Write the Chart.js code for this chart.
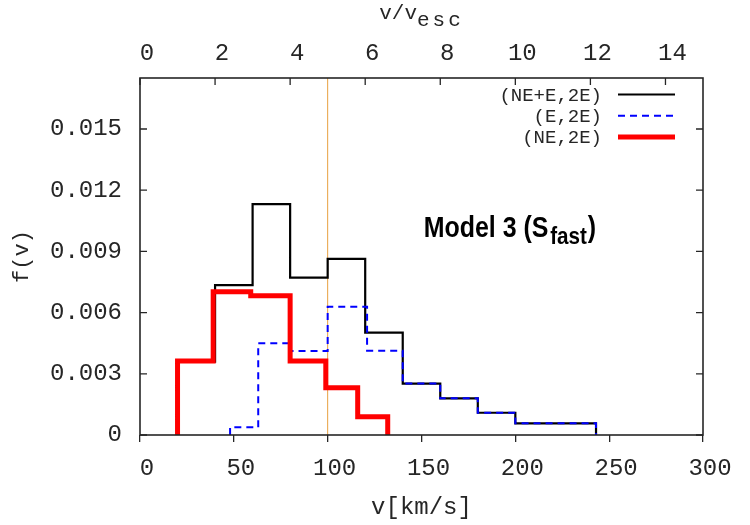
<!DOCTYPE html>
<html><head><meta charset="utf-8">
<script src="https://cdn.jsdelivr.net/npm/chart.js@4/dist/chart.umd.min.js"></script>
<style>html,body{margin:0;padding:0;background:#fff}</style>
</head><body>
<canvas id="c" width="750" height="525" style="width:750px;height:525px;display:block"></canvas>
<script>
// ---------------- data ----------------
const seriesNames = ['(NE+E,2E)', '(E,2E)', '(NE,2E)'];
// (NE+E,2E): bin edges [km/s] and heights
const totalEdges  = [20, 40, 60, 80, 100, 120, 140, 160, 180, 200, 243];
const totalValues = [0.0036, 0.00735, 0.01132, 0.00771, 0.00863, 0.00502, 0.00252, 0.0018, 0.00109, 0.00057];
// (E,2E)
const escEdges  = [48, 63, 80, 100, 121, 140, 160, 180, 200, 243];
const escValues = [0.00038, 0.0045, 0.00412, 0.00629, 0.00413, 0.00252, 0.0018, 0.00109, 0.00057];
// (NE,2E)
const nonEscEdges  = [20, 39, 59, 80, 99, 116, 132];
const nonEscValues = [0.00363, 0.00702, 0.00683, 0.00363, 0.00232, 0.0009];
// reference vertical line (v = 100 km/s)
const markerV = 100;
// axes
const xTicks = [0, 50, 100, 150, 200, 250, 300];
const x2Ticks = [0, 2, 4, 6, 8, 10, 12, 14];
const yTicks = [0, 0.003, 0.006, 0.009, 0.012, 0.015];
const yTickLabels = ['0', '0.003', '0.006', '0.009', '0.012', '0.015'];
const xRange = [0, 300], x2Range = [0, 15], yRange = [0, 0.0175];
const annotationText = ['Model 3 (S', 'fast', ')'];
const annotationAt = {v: 151.2, f: 0.00969};

// ---------------- helpers ----------------
function histPoints(edges, values) {
  const pts = [{x: edges[0], y: 0}];
  values.forEach((v, i) => pts.push({x: edges[i], y: v}));
  pts.push({x: edges[edges.length - 1], y: 0});
  return pts;
}
const MONO = '"Liberation Mono", "DejaVu Sans Mono", monospace';
const SANS = '"Liberation Sans", Arial, sans-serif';
const INK = '#262626';
const seriesStyle = [
  {color: '#000000', width: 2.2, dash: []},
  {color: '#0000ff', width: 2, dash: [7, 5]},
  {color: '#ff0000', width: 5, dash: []}
];

const decorPlugin = {
  id: 'decor',
  afterDatasetsDraw(chart) {
    const ctx = chart.ctx;
    const a = chart.chartArea;
    const ys = chart.scales.y, x2 = chart.scales.x2, xs = chart.scales.x;
    ctx.save();
    // frame
    ctx.strokeStyle = INK; ctx.lineWidth = 1.6; ctx.setLineDash([]);
    ctx.strokeRect(a.left, a.top, a.right - a.left, a.bottom - a.top);
    // inward ticks: y (left and mirrored right), x2 (top)
    ctx.lineWidth = 1.3;
    ctx.beginPath();
    yTicks.forEach(v => {
      const p = ys.getPixelForValue(v);
      ctx.moveTo(a.left, p); ctx.lineTo(a.left + 7, p);
      ctx.moveTo(a.right, p); ctx.lineTo(a.right - 7, p);
    });
    x2Ticks.forEach(v => {
      const p = x2.getPixelForValue(v);
      ctx.moveTo(p, a.top); ctx.lineTo(p, a.top + 7);
    });
    ctx.stroke();

    // legend (text right-aligned, sample on the right)
    ctx.font = '19px ' + MONO;
    ctx.textAlign = 'right'; ctx.textBaseline = 'middle';
    seriesNames.forEach((name, i) => {
      const y = a.top + 16.5 + i * 21.2;
      ctx.fillStyle = INK;
      ctx.fillText(name, a.right - 101, y + 1);
      const st = seriesStyle[i];
      ctx.strokeStyle = st.color; ctx.lineWidth = st.width; ctx.setLineDash(st.dash);
      ctx.lineCap = 'butt';
      ctx.beginPath(); ctx.moveTo(a.right - 85, y); ctx.lineTo(a.right - 28, y); ctx.stroke();
    });
    ctx.setLineDash([]);

    // annotation "Model 3 (S_fast)"
    const ax = xs.getPixelForValue(annotationAt.v), ay = ys.getPixelForValue(annotationAt.f);
    ctx.save();
    ctx.translate(ax, ay); ctx.scale(0.86, 1);
    ctx.fillStyle = '#000'; ctx.textAlign = 'left'; ctx.textBaseline = 'alphabetic';
    ctx.font = 'bold 29px ' + SANS;
    ctx.fillText(annotationText[0], 0, 0);
    let w = ctx.measureText(annotationText[0]).width + 2;
    ctx.font = 'bold 24px ' + SANS;
    ctx.fillText(annotationText[1], w, 7);
    w += ctx.measureText(annotationText[1]).width + 1;
    ctx.font = 'bold 29px ' + SANS;
    ctx.fillText(annotationText[2], w, 0);
    ctx.restore();

    // top axis title v/v_esc
    ctx.fillStyle = INK; ctx.textAlign = 'left'; ctx.textBaseline = 'alphabetic';
    ctx.font = '21px ' + MONO;
    const t1 = 'v/v', t2 = 'esc';
    const w1 = ctx.measureText(t1).width;
    ctx.letterSpacing = '3px';
    const w2 = ctx.measureText(t2).width;
    ctx.letterSpacing = '0px';
    const cx = (a.left + a.right) / 2;
    const sx = cx - (w1 + w2) / 2;
    ctx.fillText(t1, sx, 18.5);
    ctx.letterSpacing = '3px';
    ctx.fillText(t2, sx + w1, 26);
    ctx.letterSpacing = '0px';
    ctx.restore();
  }
};

const lineDs = (label, pts, st, order) => ({
  label, data: pts, borderColor: st.color, borderWidth: st.width, borderDash: st.dash,
  stepped: 'before', pointRadius: 0, fill: false, tension: 0, order,
  borderJoinStyle: 'miter', borderCapStyle: 'butt'
});

new Chart(document.getElementById('c'), {
  type: 'line',
  data: {
    datasets: [
      lineDs(seriesNames[2], histPoints(nonEscEdges, nonEscValues), seriesStyle[2], 0),
      lineDs(seriesNames[1], histPoints(escEdges, escValues), seriesStyle[1], 1),
      lineDs(seriesNames[0], histPoints(totalEdges, totalValues), seriesStyle[0], 2),
      {label: 'marker', data: [{x: markerV, y: yRange[0]}, {x: markerV, y: yRange[1]}],
       borderColor: '#e8a040', borderWidth: 1, pointRadius: 0, fill: false, order: 3}
    ]
  },
  options: {
    responsive: false, animation: false, devicePixelRatio: 1,
    layout: {padding: {left: 0, right: 47, top: 0, bottom: 0}},
    plugins: {legend: {display: false}, tooltip: {enabled: false}},
    scales: {
      x: {
        type: 'linear', position: 'bottom', min: xRange[0], max: xRange[1],
        afterBuildTicks: s => { s.ticks = xTicks.map(v => ({value: v})); },
        afterFit: s => { s.height = 90; },
        grid: {display: true, drawOnChartArea: false, drawTicks: true, tickLength: 7, color: INK, lineWidth: 1.3},
        border: {display: false},
        ticks: {padding: 12, labelOffset: 7, maxRotation: 0, autoSkip: false, color: INK,
                font: {family: MONO, size: 24}},
        title: {display: true, text: 'v[km/s]', color: INK, font: {family: MONO, size: 24},
                padding: {top: 0, bottom: 3}}
      },
      x2: {
        type: 'linear', position: 'top', min: x2Range[0], max: x2Range[1],
        afterBuildTicks: s => { s.ticks = x2Ticks.map(v => ({value: v})); },
        afterFit: s => { s.height = 78; },
        grid: {display: false, drawTicks: false},
        border: {display: false},
        ticks: {padding: 10, labelOffset: 7, maxRotation: 0, autoSkip: false, color: INK,
                font: {family: MONO, size: 24}}
      },
      y: {
        type: 'linear', position: 'left', min: yRange[0], max: yRange[1],
        afterBuildTicks: s => { s.ticks = yTicks.map(v => ({value: v})); },
        afterFit: s => { s.width = 140; },
        grid: {display: false, drawTicks: false},
        border: {display: false},
        ticks: {padding: 18, color: INK, font: {family: MONO, size: 24},
                callback: (v) => { const i = yTicks.findIndex(t => Math.abs(t - v) < 1e-9); return i >= 0 ? yTickLabels[i] : ''; }},
        title: {display: true, text: 'f(v)', color: INK, font: {family: MONO, size: 22},
                padding: {top: 9, bottom: 0}}
      }
    }
  },
  plugins: [decorPlugin]
});
</script>
</body></html>
